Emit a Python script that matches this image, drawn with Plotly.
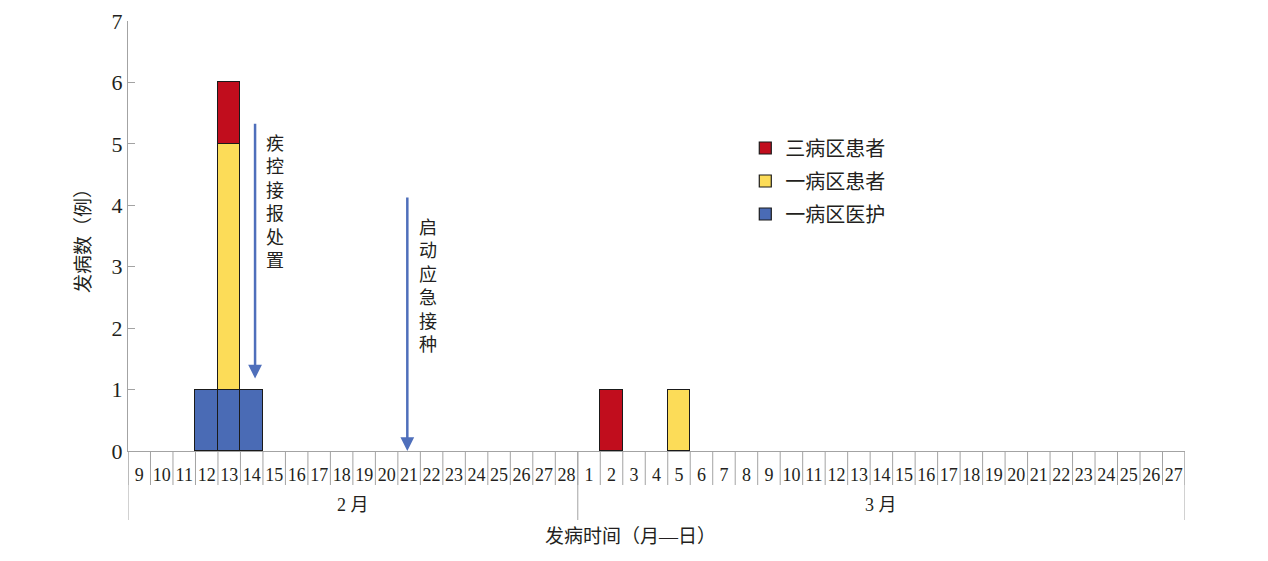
import plotly.graph_objects as go

# 发病日期（2月9日—3月27日）
feb_days = list(range(9, 29))
mar_days = list(range(1, 28))
day_labels = [str(d) for d in feb_days + mar_days]
month_labels = ["2 月", "3 月"]
month_sizes = [len(feb_days), len(mar_days)]

# 每日发病例数（2月9日起，共47天）
ward1_staff = [0, 0, 0, 1, 1, 1, 0, 0, 0, 0, 0, 0, 0, 0, 0, 0, 0, 0, 0, 0,
               0, 0, 0, 0, 0, 0, 0, 0, 0, 0, 0, 0, 0, 0, 0, 0, 0, 0, 0, 0, 0, 0, 0, 0, 0, 0, 0]
ward1_patients = [0, 0, 0, 0, 4, 0, 0, 0, 0, 0, 0, 0, 0, 0, 0, 0, 0, 0, 0, 0,
                  0, 0, 0, 0, 1, 0, 0, 0, 0, 0, 0, 0, 0, 0, 0, 0, 0, 0, 0, 0, 0, 0, 0, 0, 0, 0, 0]
ward3_patients = [0, 0, 0, 0, 1, 0, 0, 0, 0, 0, 0, 0, 0, 0, 0, 0, 0, 0, 0, 0,
                  0, 1, 0, 0, 0, 0, 0, 0, 0, 0, 0, 0, 0, 0, 0, 0, 0, 0, 0, 0, 0, 0, 0, 0, 0, 0, 0]

# 事件箭头（位置按日期序号）
event_text = ["疾控接报处置", "启动应急接种"]
event_x = [5.15, 11.92]
event_y_top = [5.35, 4.15]
event_y_tip = [1.18, 0.0]
event_text_y = [4.05, 2.67]

FONT = "Times New Roman, Liberation Serif, Noto Sans CJK SC"
GRAY = "#a3a3a3"
TXT = "#231f20"
PLOT_W = 1057
PLOT_H = 430


def nz(vals):
    return [v if v else None for v in vals]


n = len(day_labels)
x_idx = list(range(n))

fig = go.Figure()
series = [
    ("一病区医护", ward1_staff, "#4a6bb5", 3),
    ("一病区患者", ward1_patients, "#fcdc58", 2),
    ("三病区患者", ward3_patients, "#c10d1d", 1),
]
for name, vals, color, rank in series:
    fig.add_trace(go.Bar(
        x=x_idx, y=nz(vals), name=name, legendgroup=name, legendrank=rank,
        marker=dict(color=color, line=dict(color="#1a1a1a", width=1.2)),
    ))

# 日期格子分隔线
shapes = []
for i in range(n + 1):
    shapes.append(dict(type="line", xref="x", yref="paper",
                       x0=i - 0.5, x1=i - 0.5, y0=0, y1=-34 / PLOT_H,
                       line=dict(color=GRAY, width=1)))

annotations = []
# 月份分隔线与标签
start = 0
bounds = [0]
for label, size in zip(month_labels, month_sizes):
    annotations.append(dict(xref="x", yref="paper", x=start + (size - 1) / 2, y=-54 / PLOT_H,
                            xanchor="center", yanchor="middle",
                            text=label, showarrow=False,
                            font=dict(family=FONT, size=18, color=TXT)))
    start += size
    bounds.append(start)
for b in bounds:
    shapes.append(dict(type="line", xref="x", yref="paper",
                       x0=b - 0.5, x1=b - 0.5, y0=0, y1=-69 / PLOT_H,
                       line=dict(color=GRAY, width=1)))

for txt, x, yt, ytip, ty in zip(event_text, event_x, event_y_top, event_y_tip, event_text_y):
    annotations.append(dict(
        xref="x", yref="y", axref="x", ayref="y",
        x=x, y=ytip, ax=x, ay=yt, text="", showarrow=True,
        arrowhead=2, arrowsize=1.1, arrowwidth=2.5, arrowcolor="#4f6fbb",
    ))
    annotations.append(dict(
        xref="x", yref="y", x=x + 0.9, y=ty, showarrow=False,
        xanchor="center", yanchor="middle",
        text="<br>".join(txt), font=dict(family=FONT, size=18, color=TXT),
    ))

annotations.append(dict(xref="paper", yref="paper", x=(630 - 128) / PLOT_W, y=-85 / PLOT_H,
                        xanchor="center", yanchor="middle",
                        text="发病时间（月—日）", showarrow=False,
                        font=dict(family=FONT, size=19, color=TXT)))
annotations.append(dict(xref="paper", yref="paper", x=-45 / PLOT_W, y=0.5,
                        xanchor="center", yanchor="middle",
                        text="发病数（例）", textangle=-90, showarrow=False,
                        font=dict(family=FONT, size=19, color=TXT)))

# 页面有 8px 的默认边距，故整体尺寸减 8
fig.update_layout(
    width=1260, height=553,
    margin=dict(l=120, r=83, t=13, b=110),
    paper_bgcolor="white", plot_bgcolor="white",
    barmode="stack", bargap=0,
    font=dict(family=FONT, size=16, color=TXT),
    showlegend=True,
    legend=dict(x=0.584, y=0.75, xanchor="left", yanchor="top",
                traceorder="grouped", font=dict(family=FONT, size=20, color=TXT),
                itemwidth=30, tracegroupgap=4, bgcolor="rgba(0,0,0,0)"),
    xaxis=dict(
        range=[-0.5, n - 0.5], tickmode="array", tickvals=x_idx, ticktext=day_labels,
        tickangle=0, automargin=False, showline=True, linecolor=GRAY, linewidth=1,
        ticks="outside", ticklen=7, tickcolor="rgba(0,0,0,0)",
        showgrid=False, zeroline=False, tickfont=dict(family=FONT, size=18, color=TXT),
    ),
    yaxis=dict(
        range=[0, 7], dtick=1, automargin=False, showline=True, linecolor=GRAY, linewidth=1,
        ticks="inside", ticklen=7, tickcolor=GRAY, showgrid=False, zeroline=False,
        tickfont=dict(family=FONT, size=22, color=TXT),
    ),
    shapes=shapes,
    annotations=annotations,
)

fig.write_html("out.html")
